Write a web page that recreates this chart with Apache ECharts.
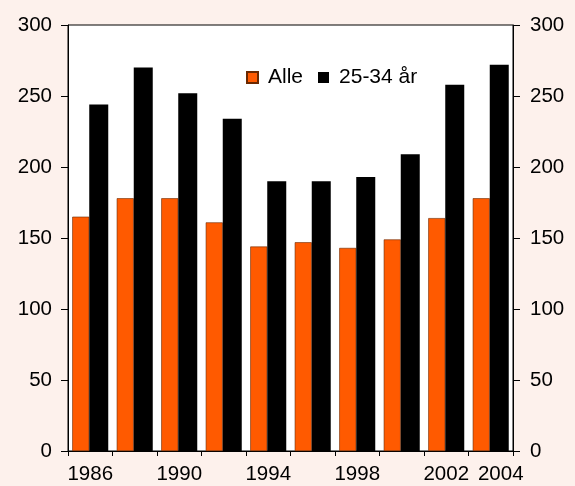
<!DOCTYPE html>
<html><head><meta charset="utf-8">
<script src="https://cdn.jsdelivr.net/npm/echarts@6/dist/echarts.min.js"></script>
<style>html,body{margin:0;padding:0;background:#FDF1EC;}#c{width:575px;height:486px;}</style>
</head><body><div id="c"></div>
<script>
const categories = ['1986','1988','1990','1992','1994','1996','1998','2000','2002','2004'];
const shownLabels = ['1986','1990','1994','1998','2002','2004'];
const alle = [165, 178, 178, 161, 144, 147, 143, 149, 164, 178];
const aar2534 = [244, 270, 252, 234, 190, 190, 193, 209, 258, 272];
const seriesNames = ['Alle', '25-34 år'];

const font = 'Liberation Sans, Arial, sans-serif';
const chart = echarts.init(document.getElementById('c'), null, {renderer: 'canvas'});
const yAxisCommon = {
  type: 'value', min: 0, max: 300, interval: 50,
  axisLine: {show: true, lineStyle: {color: '#000', width: 1}},
  axisTick: {show: true, length: 7, lineStyle: {color: '#000'}},
  splitLine: {show: false}
};
const lab = {color: '#000', fontSize: 20.5, fontFamily: font};
chart.setOption({
  backgroundColor: '#FDF1EC',
  animation: false,
  grid: {left: 68, right: 62, top: 25, bottom: 35, show: true, backgroundColor: '#fff', borderColor: '#000', borderWidth: 1},
  legend: {
    data: seriesNames, top: 62, left: 241, itemWidth: 11, itemHeight: 11, itemGap: 15,
    textStyle: {color: '#000', fontSize: 21, fontFamily: font, padding: [0, 0, 0, 5]},
    icon: 'rect'
  },
  xAxis: {
    type: 'category', data: categories,
    axisLine: {show: true, lineStyle: {color: '#000'}},
    axisTick: {show: true, interval: 0, length: 5, lineStyle: {color: '#000'}},
    axisLabel: Object.assign({}, lab, {margin: 13,
      interval: (i, v) => shownLabels.includes(v),
      formatter: v => v === '2004' ? '{r|' + v + '}' : v,
      rich: {r: Object.assign({}, lab, {padding: [0, 0, 0, 20]})}})
  },
  yAxis: [
    Object.assign({position: 'left', axisLabel: Object.assign({}, lab, {margin: 16})}, yAxisCommon),
    Object.assign({position: 'right', axisLabel: Object.assign({}, lab, {margin: 17})}, yAxisCommon)
  ],
  series: [
    {name: seriesNames[0], type: 'bar', data: alle, barWidth: 17, barGap: '0%',
     itemStyle: {color: '#FF5A00', borderColor: '#6a2800', borderWidth: 0.6}},
    {name: seriesNames[1], type: 'bar', data: aar2534, barWidth: 19, barGap: '0%',
     itemStyle: {color: '#000'}}
  ]
});
</script></body></html>
